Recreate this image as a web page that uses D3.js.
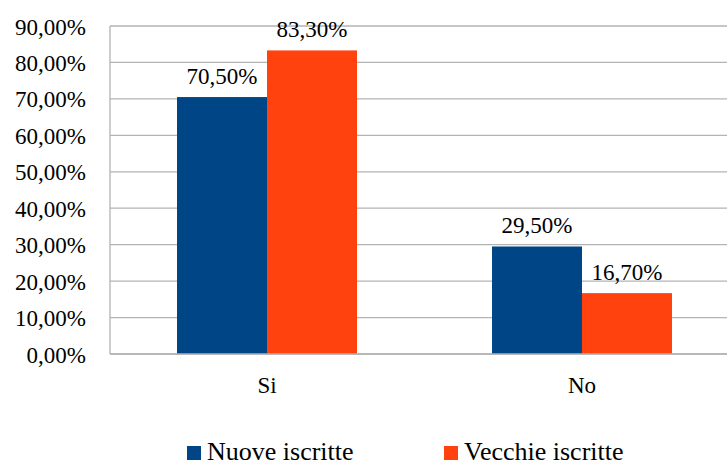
<!DOCTYPE html>
<html><head><meta charset="utf-8">
<script src="https://cdn.jsdelivr.net/npm/d3@7"></script>
<style>body{margin:0;background:#fff}svg{display:block}</style>
</head><body>
<svg id="c" width="727" height="464"></svg>
<script>
const categories = ["Si", "No"];
const seriesNames = ["Nuove iscritte", "Vecchie iscritte"];
const nuove = [70.5, 29.5];
const vecchie = [83.3, 16.7];
const yTicks = [0,10,20,30,40,50,60,70,80,90];
const colors = ["#004586", "#FF420E"];

(function(){
const FONT = "Liberation Serif";
const svg = d3.select("#c").attr("font-family", FONT);
const pLeft = 110, pTop = 26, pBottom = 354;
const x = d3.scaleBand().domain(categories).range([109.5, 739.5]).paddingInner(0.4286).paddingOuter(0.2143);
const xs = d3.scaleBand().domain(seriesNames).range([0, x.bandwidth()]);
const y = d3.scaleLinear().domain([0, 90]).range([pBottom, pTop]);
const fmt = v => d3.format(".2f")(v).replace(".", ",") + "%";

// gridlines
svg.append("g").selectAll("line").data(yTicks).join("line")
  .attr("x1", pLeft).attr("x2", 727).attr("y1", d => y(d)).attr("y2", d => y(d))
  .attr("stroke", "#b3b3b3").attr("stroke-width", 1.3);
// left axis line
svg.append("line").attr("x1", pLeft).attr("x2", pLeft).attr("y1", pTop).attr("y2", pBottom)
  .attr("stroke", "#b3b3b3").attr("stroke-width", 1.3);

// y axis labels
const yAxis = d3.axisLeft(y).tickValues(yTicks).tickFormat(fmt).tickSize(0).tickPadding(24);
const gy = svg.append("g").attr("transform", `translate(${pLeft},0)`).call(yAxis)
  .attr("font-family", FONT).attr("font-size", 23);
gy.select(".domain").remove();
gy.selectAll("text").attr("dy", "0.35em").attr("fill", "#000");

// bars
const data = categories.map((c, i) => ({c, vals: [nuove[i], vecchie[i]]}));
const groups = svg.append("g").selectAll("g").data(data).join("g")
  .attr("transform", d => `translate(${x(d.c)},0)`);
groups.selectAll("rect").data(d => d.vals.map((v, j) => ({v, s: seriesNames[j], j}))).join("rect")
  .attr("x", d => xs(d.s)).attr("width", xs.bandwidth())
  .attr("y", d => y(d.v)).attr("height", d => pBottom - y(d.v))
  .attr("fill", d => colors[d.j]);
groups.selectAll("text.lbl").data(d => d.vals.map((v, j) => ({v, s: seriesNames[j], j}))).join("text")
  .attr("class", "lbl")
  .attr("x", d => xs(d.s) + xs.bandwidth() / 2).attr("y", d => y(d.v) - 13)
  .attr("text-anchor", "middle").attr("font-family", FONT).attr("font-size", 23).text(d => fmt(d.v));

// bottom axis line
svg.append("line").attr("x1", pLeft).attr("x2", 727).attr("y1", pBottom).attr("y2", pBottom)
  .attr("stroke", "#b3b3b3").attr("stroke-width", 1.5);

// x labels
const xAxis = d3.axisBottom(x).tickSize(0).tickPadding(0);
const gx = svg.append("g").attr("transform", `translate(0,${pBottom})`).call(xAxis)
  .attr("font-family", FONT).attr("font-size", 23);
gx.select(".domain").remove();
gx.selectAll("text").attr("dy", null).attr("y", 39).attr("fill", "#000");

// legend
const legX = [187, 444];
const leg = svg.append("g").selectAll("g").data(seriesNames).join("g")
  .attr("transform", (d, i) => `translate(${legX[i]},446)`);
leg.append("rect").attr("width", 14).attr("height", 14).attr("fill", (d, i) => colors[i]);
leg.append("text").attr("x", 20).attr("y", 14).attr("font-family", FONT).attr("font-size", 26).text(d => d);
})();
</script>
</body></html>
